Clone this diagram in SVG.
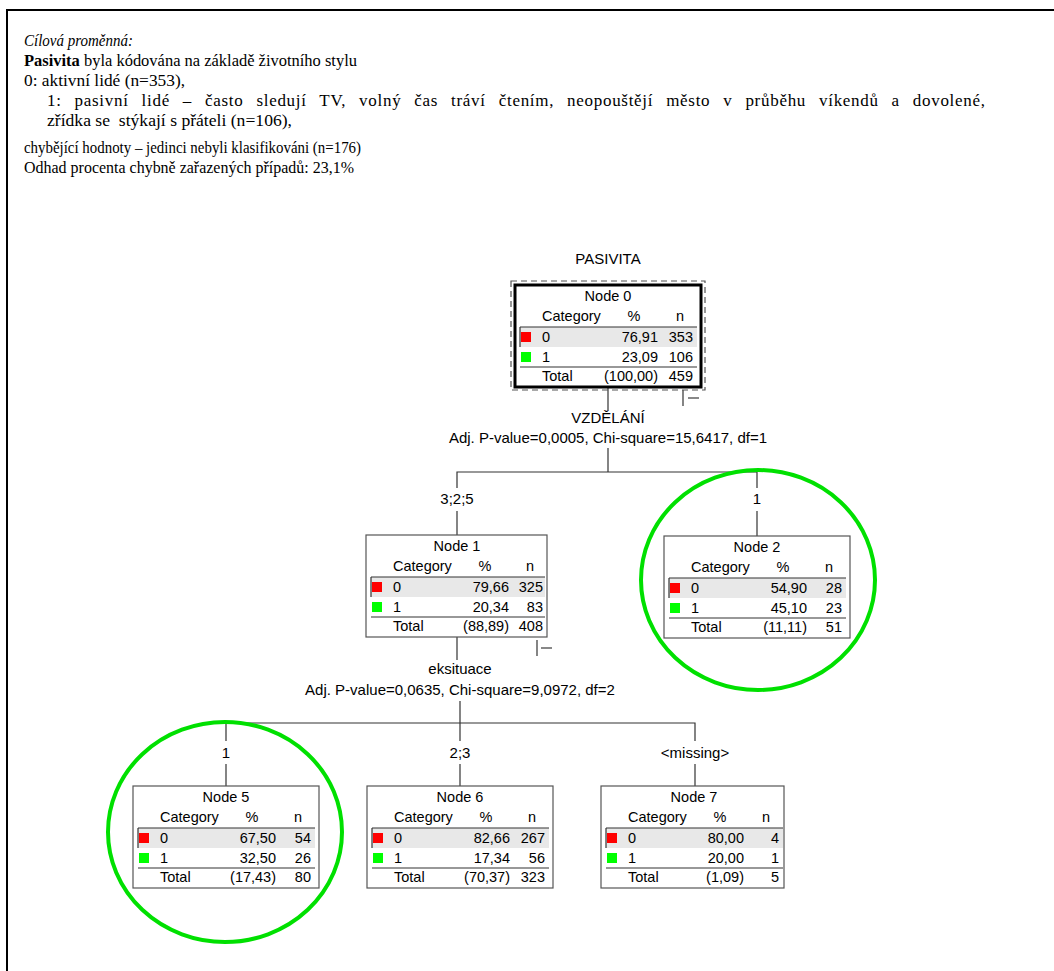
<svg xmlns="http://www.w3.org/2000/svg" width="1054" height="971" viewBox="0 0 1054 971">
<defs>
<style>
.frame{fill:none;stroke:#000;stroke-width:2}
.intro{font-family:"Liberation Serif","Times New Roman",serif;font-size:17px;fill:#000}
.t{font-family:"Liberation Sans",Arial,sans-serif;font-size:14.5px;fill:#000}
.lbl{font-family:"Liberation Sans",Arial,sans-serif;font-size:15px;fill:#000}
.c{text-anchor:middle}
.r{text-anchor:end}
.box{fill:#fff;stroke:#555;stroke-width:1.2}
.band{fill:#e8e8e8}
.sep{stroke:#333;stroke-width:1.2}
.conn{fill:none;stroke:#333;stroke-width:1.2}
.ring{fill:none;stroke:#00e000;stroke-width:4}
.red{fill:#ff0000}
.green{fill:#00ff00}
</style>
<g id="rows">
<rect class="band" x="5" y="42" width="177" height="20"/>
<line class="sep" x1="5" y1="42" x2="182" y2="42"/>
<line class="sep" x1="5" y1="42" x2="5" y2="62"/>
<rect class="red" x="6" y="47" width="10" height="10"/>
<rect class="green" x="6" y="67" width="10" height="10"/>
<line class="sep" x1="5" y1="82" x2="182" y2="82"/>
<text class="t" x="27" y="36">Category</text>
<text class="t c" x="119" y="36">%</text>
<text class="t c" x="165" y="36">n</text>
<text class="t" x="27" y="57">0</text>
<text class="t" x="27" y="77">1</text>
<text class="t" x="27" y="96">Total</text>
</g>
</defs>

<rect class="frame" x="7" y="10" width="1100" height="1000"/>

<g id="intro">
<text class="intro" x="24" y="46" font-style="italic" textLength="109" lengthAdjust="spacingAndGlyphs">Cílová proměnná:</text>
<text class="intro" x="24" y="66" textLength="333" lengthAdjust="spacingAndGlyphs"><tspan font-weight="bold">Pasivita</tspan> byla kódována na základě životního stylu</text>
<text class="intro" x="24" y="86" textLength="161" lengthAdjust="spacingAndGlyphs">0: aktivní lidé (n=353),</text>
<text class="intro" x="47" y="106" word-spacing="8" textLength="938" lengthAdjust="spacing">1: pasivní lidé – často sledují TV, volný čas tráví čtením, neopouštějí město v průběhu víkendů a dovolené,</text>
<text class="intro" x="47" y="126" xml:space="preserve" textLength="245" lengthAdjust="spacingAndGlyphs">zřídka se  stýkají s přáteli (n=106),</text>
<text class="intro" x="24" y="153" textLength="337" lengthAdjust="spacingAndGlyphs">chybějící hodnoty – jedinci nebyli klasifikováni (n=176)</text>
<text class="intro" x="24" y="173" textLength="330" lengthAdjust="spacingAndGlyphs">Odhad procenta chybně zařazených případů: 23,1%</text>
</g>

<text class="lbl c" x="608" y="264">PASIVITA</text>

<g id="connectors">
<line class="conn" x1="608" y1="388" x2="608" y2="410"/>
<line class="conn" x1="683" y1="390" x2="683" y2="406"/>
<line x1="688" y1="398" x2="699" y2="398" stroke="#888" stroke-width="2"/>
<text class="lbl c" x="608" y="423">VZDĚLÁNÍ</text>
<text class="lbl c" x="608" y="443">Adj. P-value=0,0005, Chi-square=15,6417, df=1</text>
<line class="conn" x1="608" y1="448" x2="608" y2="472"/>
<polyline class="conn" points="457,488 457,472 757,472 757,488"/>
<text class="lbl c" x="457" y="504">3;2;5</text>
<text class="lbl c" x="757" y="504">1</text>
<line class="conn" x1="457" y1="511" x2="457" y2="535"/>
<line class="conn" x1="757" y1="511" x2="757" y2="536"/>

<line class="conn" x1="457" y1="637" x2="457" y2="660"/>
<line class="conn" x1="537" y1="640" x2="537" y2="656"/>
<line x1="541" y1="648" x2="552" y2="648" stroke="#888" stroke-width="2"/>
<text class="lbl c" x="460" y="674">eksituace</text>
<text class="lbl c" x="460" y="695">Adj. P-value=0,0635, Chi-square=9,0972, df=2</text>
<line class="conn" x1="460" y1="701" x2="460" y2="723"/>
<polyline class="conn" points="226,741 226,723 695,723 695,741"/>
<line class="conn" x1="460" y1="723" x2="460" y2="741"/>
<text class="lbl c" x="226" y="758">1</text>
<text class="lbl c" x="460" y="758">2;3</text>
<text class="lbl c" x="695" y="758">&lt;missing&gt;</text>
<line class="conn" x1="226" y1="764" x2="226" y2="786"/>
<line class="conn" x1="460" y1="764" x2="460" y2="786"/>
<line class="conn" x1="695" y1="764" x2="695" y2="786"/>
</g>

<g id="node0">
<rect x="511" y="281" width="194" height="109" fill="none" stroke="#555" stroke-width="1.2" stroke-dasharray="6,4"/>
<g transform="translate(515,285)">
<rect class="box" x="0" y="0" width="186" height="102"/>
<use href="#rows"/>
<rect x="0" y="0" width="186" height="102" fill="none" stroke="#000" stroke-width="3"/>
<text class="t c" x="93" y="16">Node 0</text>
<text class="t r" x="143" y="57">76,91</text><text class="t r" x="178" y="57">353</text>
<text class="t r" x="143" y="77">23,09</text><text class="t r" x="178" y="77">106</text>
<text class="t r" x="143" y="96">(100,00)</text><text class="t r" x="178" y="96">459</text>
</g>
</g>

<g id="node1" transform="translate(366,535)">
<rect class="box" x="0" y="0" width="181" height="102"/>
<rect class="band" x="5" y="42" width="174" height="20"/>
<line class="sep" x1="5" y1="42" x2="179" y2="42"/>
<line class="sep" x1="5" y1="42" x2="5" y2="62"/>
<rect class="red" x="6" y="47" width="10" height="10"/>
<rect class="green" x="6" y="67" width="10" height="10"/>
<line class="sep" x1="5" y1="82" x2="179" y2="82"/>
<text class="t" x="27" y="36">Category</text>
<text class="t c" x="119" y="36">%</text>
<text class="t c" x="164" y="36">n</text>
<text class="t" x="27" y="57">0</text>
<text class="t" x="27" y="77">1</text>
<text class="t" x="27" y="96">Total</text>
<text class="t c" x="91" y="16">Node 1</text>
<text class="t r" x="143" y="57">79,66</text><text class="t r" x="177" y="57">325</text>
<text class="t r" x="143" y="77">20,34</text><text class="t r" x="177" y="77">83</text>
<text class="t r" x="143" y="96">(88,89)</text><text class="t r" x="177" y="96">408</text>
</g>

<g id="node2" transform="translate(664,536)">
<rect class="box" x="0" y="0" width="186" height="102"/>
<use href="#rows"/>
<text class="t c" x="93" y="16">Node 2</text>
<text class="t r" x="143" y="57">54,90</text><text class="t r" x="178" y="57">28</text>
<text class="t r" x="143" y="77">45,10</text><text class="t r" x="178" y="77">23</text>
<text class="t r" x="143" y="96">(11,11)</text><text class="t r" x="178" y="96">51</text>
</g>

<g id="node5" transform="translate(133,786)">
<rect class="box" x="0" y="0" width="186" height="102"/>
<use href="#rows"/>
<text class="t c" x="93" y="16">Node 5</text>
<text class="t r" x="143" y="57">67,50</text><text class="t r" x="178" y="57">54</text>
<text class="t r" x="143" y="77">32,50</text><text class="t r" x="178" y="77">26</text>
<text class="t r" x="143" y="96">(17,43)</text><text class="t r" x="178" y="96">80</text>
</g>

<g id="node6" transform="translate(367,786)">
<rect class="box" x="0" y="0" width="186" height="102"/>
<use href="#rows"/>
<text class="t c" x="93" y="16">Node 6</text>
<text class="t r" x="143" y="57">82,66</text><text class="t r" x="178" y="57">267</text>
<text class="t r" x="143" y="77">17,34</text><text class="t r" x="178" y="77">56</text>
<text class="t r" x="143" y="96">(70,37)</text><text class="t r" x="178" y="96">323</text>
</g>

<g id="node7" transform="translate(601,786)">
<rect class="box" x="0" y="0" width="183" height="102"/>
<use href="#rows"/>
<text class="t c" x="93" y="16">Node 7</text>
<text class="t r" x="143" y="57">80,00</text><text class="t r" x="178" y="57">4</text>
<text class="t r" x="143" y="77">20,00</text><text class="t r" x="178" y="77">1</text>
<text class="t r" x="143" y="96">(1,09)</text><text class="t r" x="178" y="96">5</text>
</g>

<g id="highlights">
<ellipse class="ring" cx="758" cy="580" rx="117" ry="110"/>
<ellipse class="ring" cx="225" cy="832" rx="117" ry="110"/>
</g>
</svg>
